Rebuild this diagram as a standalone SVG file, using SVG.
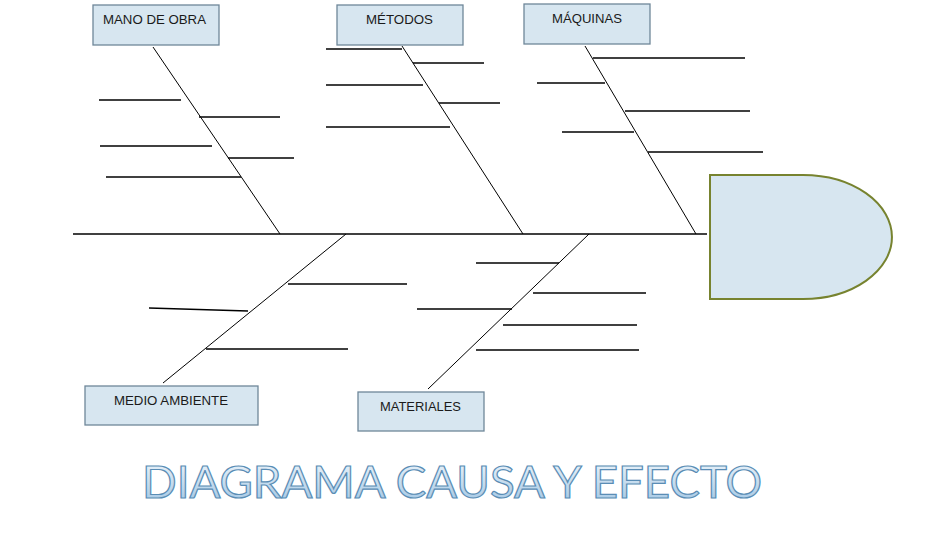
<svg xmlns="http://www.w3.org/2000/svg" width="929" height="535" viewBox="0 0 929 535">
<defs>
<linearGradient id="tg" x1="0" y1="0" x2="0" y2="1">
<stop offset="0" stop-color="#f4f9fd"/>
<stop offset="1" stop-color="#9dc3e2"/>
</linearGradient>
<style>
.box{fill:#d7e6f0;stroke:#6f8799;stroke-width:1.3}
.lbl{font-family:"Liberation Sans",Arial,sans-serif;font-size:13px;fill:#1a1a1a}
.bone{stroke:#000;stroke-width:1;fill:none}
.rib{stroke:#000;stroke-width:1.3;fill:none}
.title{font-family:Lato,"Open Sans",sans-serif;font-size:44px;fill:url(#tg);stroke:#5a8db5;stroke-width:1.2}
</style>
</defs>
<rect width="929" height="535" fill="#fff"/>
<g id="connectors">
<line class="rib" x1="73" y1="234" x2="707" y2="234"/>
<line class="bone" x1="153" y1="47" x2="280" y2="234"/>
<line class="rib" x1="99" y1="100" x2="181" y2="100"/>
<line class="rib" x1="199" y1="117" x2="280" y2="117"/>
<line class="rib" x1="100" y1="146" x2="212" y2="146"/>
<line class="rib" x1="228" y1="158" x2="294" y2="158"/>
<line class="rib" x1="106" y1="177" x2="241" y2="177"/>
<line class="bone" x1="402" y1="46" x2="523" y2="234"/>
<line class="rib" x1="326" y1="49" x2="402" y2="49"/>
<line class="rib" x1="413" y1="63" x2="484" y2="63"/>
<line class="rib" x1="326" y1="85" x2="423" y2="85"/>
<line class="rib" x1="439" y1="103" x2="500" y2="103"/>
<line class="rib" x1="326" y1="127" x2="450" y2="127"/>
<line class="bone" x1="585" y1="46" x2="696" y2="234"/>
<line class="rib" x1="593" y1="58" x2="745" y2="58"/>
<line class="rib" x1="537" y1="83" x2="605" y2="83"/>
<line class="rib" x1="625" y1="111" x2="750" y2="111"/>
<line class="rib" x1="562" y1="132" x2="634" y2="132"/>
<line class="rib" x1="648" y1="152" x2="763" y2="152"/>
<line class="bone" x1="346" y1="234" x2="163" y2="383"/>
<line class="rib" x1="288" y1="284" x2="407" y2="284"/>
<line class="rib" x1="149" y1="308" x2="248" y2="311"/>
<line class="rib" x1="206" y1="349" x2="348" y2="349"/>
<line class="bone" x1="589" y1="234" x2="428" y2="389"/>
<line class="rib" x1="476" y1="263" x2="559" y2="263"/>
<line class="rib" x1="533" y1="293" x2="646" y2="293"/>
<line class="rib" x1="417" y1="309" x2="512" y2="309"/>
<line class="rib" x1="503" y1="325" x2="637" y2="325"/>
<line class="rib" x1="476" y1="350" x2="639" y2="350"/>
</g>
<g id="mano-de-obra">
<rect class="box" x="93" y="5" width="126" height="40"/>
<text class="lbl" x="103" y="24" textLength="103" lengthAdjust="spacingAndGlyphs">MANO DE OBRA</text>
</g>
<g id="metodos">
<rect class="box" x="337" y="5" width="126" height="40"/>
<text class="lbl" x="366" y="24" textLength="67" lengthAdjust="spacingAndGlyphs">MÉTODOS</text>
</g>
<g id="maquinas">
<rect class="box" x="524" y="4" width="126" height="40"/>
<text class="lbl" x="552" y="23" textLength="70" lengthAdjust="spacingAndGlyphs">MÁQUINAS</text>
</g>
<g id="medio-ambiente">
<rect class="box" x="85" y="386" width="173" height="39"/>
<text class="lbl" x="114" y="405" textLength="114" lengthAdjust="spacingAndGlyphs">MEDIO AMBIENTE</text>
</g>
<g id="materiales">
<rect class="box" x="358" y="392" width="126" height="39"/>
<text class="lbl" x="380" y="411" textLength="81" lengthAdjust="spacingAndGlyphs">MATERIALES</text>
</g>
<g id="efecto">
<path d="M710,175 H803 A89,62 0 0 1 803,299 H710 Z" fill="#d7e6f0" stroke="#77832f" stroke-width="2"/>
</g>
<g id="titulo">
<text class="title" x="142" y="498" textLength="620" lengthAdjust="spacingAndGlyphs">DIAGRAMA CAUSA Y EFECTO</text>
</g>
</svg>
